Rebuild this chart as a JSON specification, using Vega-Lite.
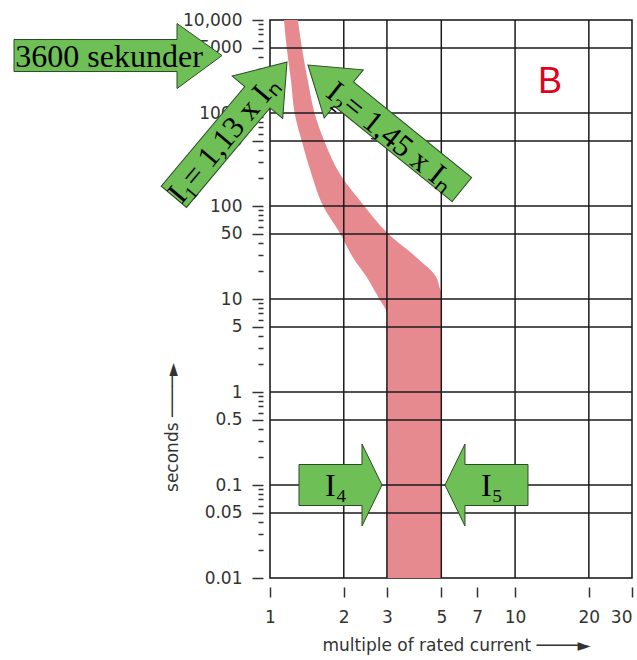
{
  "$schema": "https://vega.github.io/schema/vega-lite/v6.json",
  "width": 362,
  "height": 558,
  "autosize": {"type": "none"},
  "padding": {"left": 270, "top": 20, "right": 5, "bottom": 82},
  "background": "white",
  "config": {
    "view": {"stroke": "#111", "strokeWidth": 1.5},
    "axis": {"labelFont": "DejaVu Sans", "titleFont": "DejaVu Sans", "labelColor": "#333", "titleColor": "#333", "titleFontWeight": "normal", "tickColor": "#333", "tickWidth": 1.5}
  },
  "datasets": {
    "band": [
      {"s": 0.01, "lo": 3.0, "hi": 5.0},
      {"s": 7.1, "lo": 3.0, "hi": 5.0},
      {"s": 8.2, "lo": 2.93, "hi": 5.0},
      {"s": 9.8, "lo": 2.80, "hi": 5.0},
      {"s": 11.5, "lo": 2.71, "hi": 5.0},
      {"s": 13.5, "lo": 2.62, "hi": 4.91},
      {"s": 17.2, "lo": 2.48, "hi": 4.77},
      {"s": 28, "lo": 2.18, "hi": 3.96},
      {"s": 51, "lo": 1.93, "hi": 3.02},
      {"s": 102, "lo": 1.64, "hi": 2.41},
      {"s": 215, "lo": 1.48, "hi": 1.94},
      {"s": 490, "lo": 1.35, "hi": 1.67},
      {"s": 1000, "lo": 1.26, "hi": 1.52},
      {"s": 2150, "lo": 1.22, "hi": 1.43},
      {"s": 5000, "lo": 1.17, "hi": 1.35},
      {"s": 10000, "lo": 1.14, "hi": 1.30}
    ],
    "gridx": [{"m": 2}, {"m": 3}, {"m": 5}, {"m": 10}, {"m": 20}],
    "gridy": [{"s": 5000}, {"s": 1000}, {"s": 500}, {"s": 100}, {"s": 50}, {"s": 10}, {"s": 5}, {"s": 1}, {"s": 0.5}, {"s": 0.1}, {"s": 0.05}]
  },
  "layer": [
    {
      "data": {"name": "band"},
      "mark": {"type": "area", "orient": "horizontal", "interpolate": "monotone", "color": "#e68a8f", "opacity": 1},
      "encoding": {
        "y": {"field": "s", "type": "quantitative",
          "scale": {"type": "log", "domain": [0.01, 10000], "nice": false},
          "axis": {
            "values": [0.01,0.02,0.03,0.04,0.05,0.06,0.07,0.08,0.09,0.1,0.2,0.3,0.4,0.5,0.6,0.7,0.8,0.9,1,2,3,4,5,6,7,8,9,10,20,30,40,50,60,70,80,90,100,200,300,400,500,600,700,800,900,1000,2000,3000,4000,5000,6000,7000,8000,9000,10000],
            "labelExpr": "datum.value == 10000 ? '10,000' : (indexof([0.01,0.05,0.1,0.5,1,5,10,50,100,500,1000,5000], datum.value) >= 0 ? format(datum.value, '~g') : '')",
            "tickDash": {"condition": {"test": "indexof([0.01,0.05,0.1,0.5,1,5,10,50,100,500,1000,5000,10000], datum.value) >= 0", "value": []}, "value": [5, 30]},
            "tickSize": 11, "offset": 7, "domain": false, "grid": false,
            "labelPadding": 10, "labelFontSize": 17, "labelOverlap": false, "labelFlush": false,
            "title": "seconds ────►", "titleFontSize": 17, "titlePadding": 1, "titleY": 407
          }
        },
        "x": {"field": "lo", "type": "quantitative",
          "scale": {"type": "log", "domain": [1, 30], "nice": false},
          "axis": {
            "values": [1, 2, 3, 5, 7, 10, 20, 30], "format": "~g",
            "offset": 9, "tickSize": 10, "domain": false, "grid": false,
            "labelPadding": 12, "labelFontSize": 17, "labelFlush": false, "labelOverlap": false,
            "labelAlign": {"condition": {"test": "datum.value == 30", "value": "right"}, "value": "center"},
            "title": "multiple of rated current ────►", "titleFontSize": 17, "titlePadding": 12, "titleX": 186
          }
        },
        "x2": {"field": "hi"}
      }
    },
    {
      "data": {"name": "gridx"},
      "mark": {"type": "rule", "color": "#1a1a1a", "strokeWidth": 1.5},
      "encoding": {
        "x": {"field": "m", "type": "quantitative", "scale": {"type": "log", "domain": [1, 30], "nice": false}}
      }
    },
    {
      "data": {"name": "gridy"},
      "mark": {"type": "rule", "color": "#1a1a1a", "strokeWidth": 1.5},
      "encoding": {
        "y": {"field": "s", "type": "quantitative", "scale": {"type": "log", "domain": [0.01, 10000], "nice": false}}
      }
    },
    {
      "data": {"values": [{"m": 0.637, "s": 4150}]},
      "mark": {"type": "point", "shape": "M0,0 L-45,-32 L-45,-16 L-208,-16 L-208,16 L-45,16 L-45,33 Z", "size": 4, "filled": true, "fill": "#6dbf56", "stroke": "#2d4a26", "strokeWidth": 1, "opacity": 1, "angle": 0},
      "encoding": {
        "x": {"field": "m", "type": "quantitative", "scale": {"type": "log", "domain": [1, 30], "nice": false}},
        "y": {"field": "s", "type": "quantitative", "scale": {"type": "log", "domain": [0.01, 10000], "nice": false}}
      }
    },
    {
      "data": {"values": [{"m": 1.173, "s": 3535}]},
      "mark": {"type": "point", "shape": "M0,0 L-46,-33 L-46,-16.5 L-176,-16.5 L-176,16.5 L-46,16.5 L-46,33 Z", "size": 4, "filled": true, "fill": "#6dbf56", "stroke": "#2d4a26", "strokeWidth": 1, "opacity": 1, "angle": 310},
      "encoding": {
        "x": {"field": "m", "type": "quantitative", "scale": {"type": "log", "domain": [1, 30], "nice": false}},
        "y": {"field": "s", "type": "quantitative", "scale": {"type": "log", "domain": [0.01, 10000], "nice": false}}
      }
    },
    {
      "data": {"values": [{"m": 1.429, "s": 3282}]},
      "mark": {"type": "point", "shape": "M0,0 L-46,-31 L-46,-15.5 L-198,-15.5 L-198,15.5 L-46,15.5 L-46,31 Z", "size": 4, "filled": true, "fill": "#6dbf56", "stroke": "#2d4a26", "strokeWidth": 1, "opacity": 1, "angle": 219},
      "encoding": {
        "x": {"field": "m", "type": "quantitative", "scale": {"type": "log", "domain": [1, 30], "nice": false}},
        "y": {"field": "s", "type": "quantitative", "scale": {"type": "log", "domain": [0.01, 10000], "nice": false}}
      }
    },
    {
      "data": {"values": [{"m": 2.864, "s": 0.1}]},
      "mark": {"type": "point", "shape": "M0,0 L-20,-41 L-20,-20.5 L-83,-20.5 L-83,20.5 L-20,20.5 L-20,41 Z", "size": 4, "filled": true, "fill": "#6dbf56", "stroke": "#2d4a26", "strokeWidth": 1, "opacity": 1, "angle": 0},
      "encoding": {
        "x": {"field": "m", "type": "quantitative", "scale": {"type": "log", "domain": [1, 30], "nice": false}},
        "y": {"field": "s", "type": "quantitative", "scale": {"type": "log", "domain": [0.01, 10000], "nice": false}}
      }
    },
    {
      "data": {"values": [{"m": 5.176, "s": 0.1}]},
      "mark": {"type": "point", "shape": "M0,0 L-20,-41 L-20,-20.5 L-83,-20.5 L-83,20.5 L-20,20.5 L-20,41 Z", "size": 4, "filled": true, "fill": "#6dbf56", "stroke": "#2d4a26", "strokeWidth": 1, "opacity": 1, "angle": 180},
      "encoding": {
        "x": {"field": "m", "type": "quantitative", "scale": {"type": "log", "domain": [1, 30], "nice": false}},
        "y": {"field": "s", "type": "quantitative", "scale": {"type": "log", "domain": [0.01, 10000], "nice": false}}
      }
    },
    {
      "data": {"values": [
        {"label": "3600 sekunder", "m": 0.2204, "s": 4000},
        {"label": "I₄", "m": 1.859, "s": 0.0975},
        {"label": "I₅", "m": 8.05, "s": 0.0975}
      ]},
      "mark": {"type": "text", "font": "Liberation Serif", "fontSize": 32, "color": "black", "align": "center", "baseline": "middle"},
      "encoding": {
        "x": {"field": "m", "type": "quantitative", "scale": {"type": "log", "domain": [1, 30], "nice": false}},
        "y": {"field": "s", "type": "quantitative", "scale": {"type": "log", "domain": [0.01, 10000], "nice": false}},
        "text": {"field": "label"}
      }
    },
    {
      "data": {"values": [{"label": "I₁= 1,13 x Iₙ", "m": 0.649, "s": 513}]},
      "mark": {"type": "text", "font": "Liberation Serif", "fontSize": 31, "color": "black", "align": "center", "baseline": "middle", "angle": 310},
      "encoding": {
        "x": {"field": "m", "type": "quantitative", "scale": {"type": "log", "domain": [1, 30], "nice": false}},
        "y": {"field": "s", "type": "quantitative", "scale": {"type": "log", "domain": [0.01, 10000], "nice": false}},
        "text": {"field": "label"}
      }
    },
    {
      "data": {"values": [{"label": "I₂= 1,45 x Iₙ", "m": 3.09, "s": 552}]},
      "mark": {"type": "text", "font": "Liberation Serif", "fontSize": 31, "color": "black", "align": "center", "baseline": "middle", "angle": 39},
      "encoding": {
        "x": {"field": "m", "type": "quantitative", "scale": {"type": "log", "domain": [1, 30], "nice": false}},
        "y": {"field": "s", "type": "quantitative", "scale": {"type": "log", "domain": [0.01, 10000], "nice": false}},
        "text": {"field": "label"}
      }
    },
    {
      "data": {"values": [{"label": "B", "m": 13.88, "s": 1641}]},
      "mark": {"type": "text", "font": "Liberation Sans", "fontSize": 36, "color": "#e2001a", "align": "center", "baseline": "alphabetic"},
      "encoding": {
        "x": {"field": "m", "type": "quantitative", "scale": {"type": "log", "domain": [1, 30], "nice": false}},
        "y": {"field": "s", "type": "quantitative", "scale": {"type": "log", "domain": [0.01, 10000], "nice": false}},
        "text": {"field": "label"}
      }
    }
  ]
}
